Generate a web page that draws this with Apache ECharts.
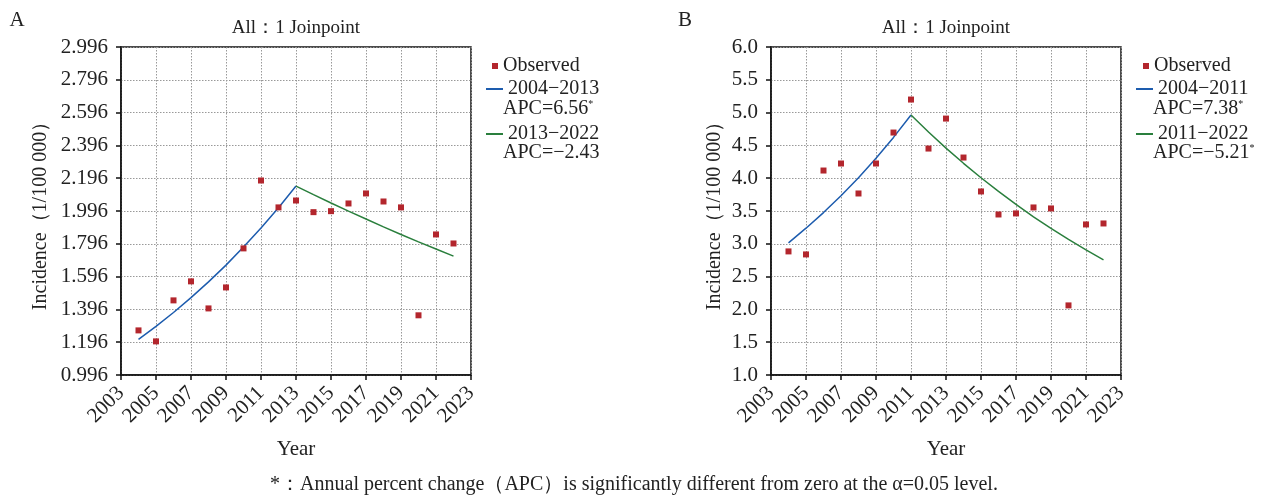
<!DOCTYPE html>
<html>
<head>
<meta charset="utf-8">
<script src="https://cdn.jsdelivr.net/npm/echarts@6/dist/echarts.min.js"></script>
<style>
html,body{margin:0;padding:0;background:#fff;}
#c{width:1268px;height:499px;}
</style>
</head>
<body>
<div id="c"></div>
<script>
// ---- Data ----
const years = [2004,2005,2006,2007,2008,2009,2010,2011,2012,2013,2014,2015,2016,2017,2018,2019,2020,2021,2022];
// Panel A
const obsA = [1.268,1.201,1.451,1.567,1.402,1.530,1.768,2.182,2.018,2.060,1.989,1.995,2.042,2.103,2.054,2.018,1.360,1.853,1.798];
const fitA1Years = [2004,2005,2006,2007,2008,2009,2010,2011,2012,2013];
const fitA1 = [1.213,1.293,1.377,1.468,1.564,1.666,1.776,1.892,2.016,2.148];
const fitA2Years = [2013,2014,2015,2016,2017,2018,2019,2020,2021,2022];
const fitA2 = [2.148,2.096,2.045,1.995,1.947,1.899,1.853,1.808,1.764,1.721];
// Panel B
const obsB = [2.884,2.838,4.117,4.224,3.767,4.224,4.696,5.199,4.452,4.909,4.315,3.798,3.447,3.463,3.554,3.539,2.061,3.295,3.310];
const fitB1Years = [2004,2005,2006,2007,2008,2009,2010,2011];
const fitB1 = [3.015,3.238,3.476,3.733,4.008,4.304,4.622,4.963];
const fitB2Years = [2011,2012,2013,2014,2015,2016,2017,2018,2019,2020,2021,2022];
const fitB2 = [4.963,4.704,4.459,4.227,4.007,3.798,3.600,3.412,3.234,3.066,2.906,2.755];
// Labels
const seriesNamesA = ['Observed','2004−2013','2013−2022'];
const seriesNamesB = ['Observed','2004−2011','2011−2022'];
const apcA = ['APC=6.56','APC=−2.43'];
const apcSigA = [true,false];
const apcB = ['APC=7.38','APC=−5.21'];
const apcSigB = [true,true];
const titleText = 'All：1 Joinpoint';
const yName = 'Incidence（1/100 000）';
const xName = 'Year';
const footnote = '*：Annual percent change（APC）is significantly different from zero at the α=0.05 level.';

// ---- Styles ----
const FONT = '"Liberation Serif","Times New Roman",serif';
const TXT = '#222';
const RED = '#b3262d';
const BLUE = '#1d5cae';
const GREEN = '#2a7f3d';

const pair = (xs, ys) => xs.map((x,i)=>[x, ys[i]]);

function xAxisCfg(gi){
  return {
    type:'value', gridIndex:gi, min:2003, max:2023, interval:2,
    name:xName, nameLocation:'middle', nameGap:64,
    nameTextStyle:{fontFamily:FONT, fontSize:21, color:TXT},
    axisLine:{show:true, lineStyle:{color:'#111', width:1.5}},
    axisTick:{show:true, length:5, lineStyle:{color:'#111', width:1.5}},
    axisLabel:{rotate:45, fontFamily:FONT, fontSize:21, color:TXT, margin:15, formatter:v=>String(v)},
    splitLine:{show:true, lineStyle:{color:'#999', type:[1.5,1.5], width:1}}
  };
}
function yAxisCfg(gi, min, max, interval, dec, gap){
  return {
    type:'value', gridIndex:gi, min:min, max:max, interval:interval,
    name:yName, nameLocation:'middle', nameGap:gap, nameRotate:90,
    nameTextStyle:{fontFamily:FONT, fontSize:20, color:TXT},
    axisLine:{show:true, lineStyle:{color:'#111', width:1.5}},
    axisTick:{show:true, length:5, lineStyle:{color:'#111', width:1.5}},
    axisLabel:{fontFamily:FONT, fontSize:21, color:TXT, margin:13, formatter:v=>Number(v).toFixed(dec)},
    splitLine:{show:true, lineStyle:{color:'#999', type:[1.5,1.5], width:1}}
  };
}
function lineSeries(name, xs, ys, idx, color){
  return {type:'line', name:name, xAxisIndex:idx, yAxisIndex:idx, data:pair(xs,ys),
    showSymbol:false, symbol:'none', color:color, lineStyle:{color:color, width:1.5}, z:3, silent:true};
}
function obsSeries(idx, ys){
  return {type:'scatter', name:'Observed', xAxisIndex:idx, yAxisIndex:idx, data:pair(years, ys),
    symbol:'rect', symbolSize:6, color:RED, itemStyle:{color:RED, opacity:1}, z:4};
}
function legends(left, obsLeft, names){
  return [
    {data:[names[0]], left:obsLeft, top:50, icon:'rect', itemWidth:6, itemHeight:6,
     textStyle:{fontFamily:FONT, fontSize:20, color:TXT, lineHeight:22}, selectedMode:false},
    {data:[names[1], names[2]], orient:'vertical', left:left, top:73, icon:'rect', itemWidth:17, itemHeight:2,
     itemGap:23, textStyle:{fontFamily:FONT, fontSize:20, color:TXT, lineHeight:22}, selectedMode:false}
  ];
}
function apcText(x, y, txt, sig){
  return {type:'text', x:x, y:y, style:{text: txt + (sig ? '{s|*}' : ''), font:'20px '+FONT, fill:TXT,
    verticalAlign:'middle', rich:{s:{fontSize:10, fontFamily:FONT, fill:TXT, verticalAlign:'top', padding:[0,0,8,0]}}}};
}
function txt(x, y, t, size, align){
  return {type:'text', x:x, y:y, style:{text:t, font:size+'px '+FONT, fill:TXT, align:align||'center', verticalAlign:'middle'}};
}

const chart = echarts.init(document.getElementById('c'), null, {renderer:'canvas'});
chart.setOption({
  animation:false,
  backgroundColor:'#fff',
  grid:[
    {left:121, right:797, top:47, bottom:124, show:true, borderColor:'#111', borderWidth:1.5, containLabel:false},
    {left:771, right:147, top:47, bottom:124, show:true, borderColor:'#111', borderWidth:1.5, containLabel:false}
  ],
  xAxis:[xAxisCfg(0), xAxisCfg(1)],
  yAxis:[yAxisCfg(0, 0.996, 2.996, 0.2, 3, 70), yAxisCfg(1, 1.0, 6.0, 0.5, 1, 46)],
  legend:[].concat(legends(481, 487, seriesNamesA), legends(1131, 1138, seriesNamesB)),
  series:[
    obsSeries(0, obsA),
    lineSeries(seriesNamesA[1], fitA1Years, fitA1, 0, BLUE),
    lineSeries(seriesNamesA[2], fitA2Years, fitA2, 0, GREEN),
    obsSeries(1, obsB),
    lineSeries(seriesNamesB[1], fitB1Years, fitB1, 1, BLUE),
    lineSeries(seriesNamesB[2], fitB2Years, fitB2, 1, GREEN)
  ],
  graphic:[
    txt(17, 20, 'A', 21),
    txt(685, 20, 'B', 21),
    txt(296, 28, titleText, 19),
    txt(946, 28, titleText, 19),
    apcText(503, 109, apcA[0], apcSigA[0]),
    apcText(503, 153, apcA[1], apcSigA[1]),
    apcText(1153, 109, apcB[0], apcSigB[0]),
    apcText(1153, 153, apcB[1], apcSigB[1]),
    txt(634, 485, footnote, 20)
  ]
});
</script>
</body>
</html>
